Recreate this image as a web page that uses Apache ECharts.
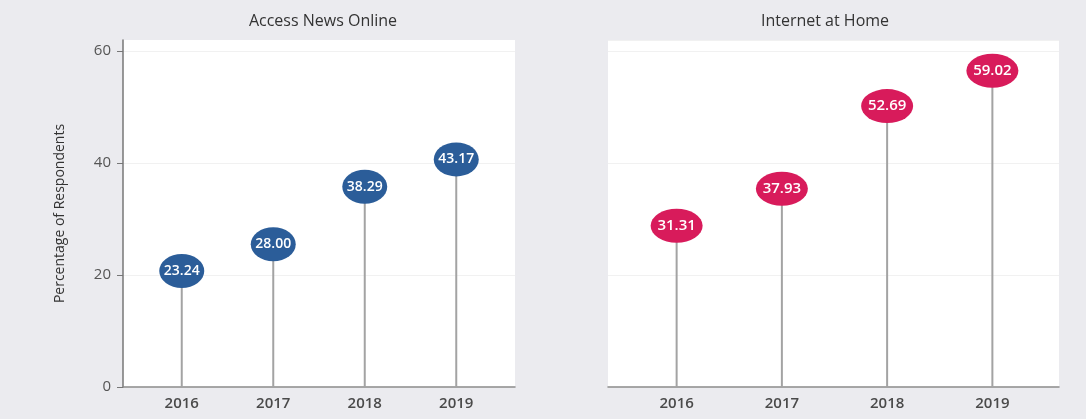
<!DOCTYPE html>
<html><head><meta charset="utf-8">
<script src="https://cdn.jsdelivr.net/npm/echarts@6/dist/echarts.min.js"></script>
<style>html,body{margin:0;padding:0;background:#fff}#c{width:1086px;height:419px}</style>
</head><body><div id="c"></div>
<script>
const years = ['2016', '2017', '2018', '2019'];
const newsOnline = [23.24, 28.00, 38.29, 43.17];
const internetHome = [31.31, 37.93, 52.69, 59.02];
const panelTitles = ['Access News Online', 'Internet at Home'];
const yTicks = [0, 20, 40, 60];
const yAxisTitle = 'Percentage of Respondents';

const font = "'Open Sans', 'Noto Sans', sans-serif";
const chart = echarts.init(document.getElementById('c'));

function dataY(grid) {
  return {gridIndex: grid, type: 'value', min: 0, max: 62, show: false};
}
function lollipop(grid, vals, color, w, fs) {
  return [
    {type: 'bar', xAxisIndex: grid, yAxisIndex: grid, data: vals, barWidth: 2,
     itemStyle: {color: '#a3a3a3'}, silent: true, z: 2},
    {type: 'scatter', xAxisIndex: grid, yAxisIndex: grid, data: vals,
     symbol: 'circle', symbolSize: [w, 34], symbolOffset: [0, 14],
     itemStyle: {color: color, opacity: 1}, z: 3,
     label: {show: true, position: 'inside', color: '#fff', fontSize: fs, fontWeight: 600, fontFamily: font,
       formatter: p => Number(p.value).toFixed(2)}}
  ];
}
const bgX = g => ({gridIndex: g, type: 'category', data: [''], axisTick: {show: false},
  axisLabel: {show: false}, axisLine: {show: true, lineStyle: {color: '#8a8a8a', width: 1.5}}});
const dataX = g => ({gridIndex: g, type: 'category', data: years, axisLine: {show: false},
  axisTick: {show: false}, axisLabel: {fontSize: 15, color: '#4a4a4a', fontWeight: 600, fontFamily: font, margin: 9}});

chart.setOption({
  backgroundColor: '#ebebef',
  animation: false,
  title: [
    {text: panelTitles[0], left: 318, top: 8, textAlign: 'center',
     textStyle: {fontSize: 16, fontWeight: 'normal', color: '#333', fontFamily: font}},
    {text: panelTitles[1], left: 820, top: 8, textAlign: 'center',
     textStyle: {fontSize: 16, fontWeight: 'normal', color: '#333', fontFamily: font}}
  ],
  grid: [
    {left: 123, right: 571, top: 40, bottom: 32, show: true, backgroundColor: '#fff', borderWidth: 0},
    {left: 136, right: 584, top: 40, bottom: 32},
    {left: 608, right: 27, top: 40, bottom: 32, show: true, backgroundColor: '#fff', borderWidth: 0},
    {left: 624, right: 41, top: 40, bottom: 32}
  ],
  xAxis: [bgX(0), dataX(1), bgX(2), dataX(3)],
  yAxis: [
    {gridIndex: 0, type: 'value', min: 0, max: 62, interval: 20,
     axisLine: {show: true, lineStyle: {color: '#777', width: 1.5}},
     axisTick: {show: true, length: 6, lineStyle: {color: '#777'}, customValues: yTicks},
     axisLabel: {fontSize: 15, color: '#555', fontFamily: font, margin: 12, customValues: yTicks},
     splitLine: {show: true, lineStyle: {color: '#f1f1f1'}},
     name: yAxisTitle, nameLocation: 'middle', nameGap: 56,
     nameTextStyle: {fontSize: 14, color: '#333', fontFamily: font}},
    dataY(1),
    {gridIndex: 2, type: 'value', min: 0, max: 62, interval: 20,
     axisLine: {show: false}, axisTick: {show: false}, axisLabel: {show: false},
     splitLine: {show: true, lineStyle: {color: '#f1f1f1'}}},
    dataY(3)
  ],
  series: [
    ...lollipop(1, newsOnline, '#2b5d99', 45, 14),
    ...lollipop(3, internetHome, '#d81b5b', 52, 15)
  ]
});
</script></body></html>
